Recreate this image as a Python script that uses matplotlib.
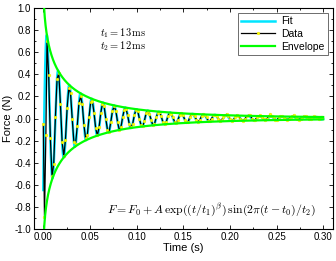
import numpy as np
import matplotlib
matplotlib.use("Agg")
import matplotlib.pyplot as plt

plt.rcParams["font.family"] = ["Liberation Sans", "DejaVu Sans"]
plt.rcParams["mathtext.fontset"] = "cm"

# fit parameters (model drawn as Fit / Envelope)
F0 = 0.003
A = 1.3
T1 = 0.013
BETA = 0.5
T0 = 0.001
T2 = 0.012

# measured samples: a few irregular first points, then every 1.8 ms from 4 ms
data_t_head = [0.0, 0.0013, 0.0028]
data_f_head = [-0.05, -0.89, -0.15]
data_t_start = 0.004
data_dt = 0.0018
data_f = [
    0.70, 0.39, -0.18, -0.52, -0.41, 0.01, 0.36, 0.41, 0.13, -0.21,
    -0.34, -0.19, 0.10, 0.28, 0.23, 0.00, -0.21, -0.23, -0.07, 0.14,
    0.20, 0.13, -0.06, -0.18, -0.15, 0.01, 0.15, 0.16, 0.05, -0.09,
    -0.15, -0.08, 0.05, 0.13, 0.11, 0.00, -0.10, -0.12, -0.03, 0.07,
    0.11, 0.07, -0.03, -0.10, -0.08, 0.01, 0.08, 0.09, 0.03, -0.05,
    -0.08, -0.05, 0.03, 0.08, 0.07, 0.00, -0.06, -0.07, -0.02, 0.05,
    0.07, 0.04, -0.01, -0.06, -0.05, 0.01, 0.05, 0.06, 0.02, -0.03,
    -0.05, -0.03, 0.02, 0.05, 0.04, 0.01, -0.03, -0.04, -0.01, 0.03,
    0.05, 0.03, -0.01, -0.03, -0.03, 0.01, 0.04, 0.04, 0.02, -0.01,
    -0.03, -0.01, 0.02, 0.04, 0.03, 0.01, -0.02, -0.02, 0.00, 0.03,
    0.03, 0.02, 0.00, -0.02, -0.01, 0.01, 0.03, 0.04, 0.02, 0.00,
    -0.02, -0.01, 0.01, 0.03, 0.02, 0.00, -0.01, -0.02, 0.00, 0.02,
    0.03, 0.03, 0.00, -0.01, -0.01, 0.01, 0.02, 0.03, 0.01, 0.00,
    -0.01, 0.00, 0.02, 0.04, 0.02, 0.01, -0.01, -0.01, 0.01, 0.02,
    0.02, 0.01, 0.00, -0.01, 0.00, 0.01, 0.02, 0.03, 0.01, 0.00,
    -0.01, 0.00, 0.01, 0.02, 0.02, 0.01, 0.00, 0.00, 0.01, 0.02,
    0.01, 0.01, 0.00, 0.01, 0.01,
]

data_t = np.concatenate([data_t_head,
                         data_t_start + data_dt * np.arange(len(data_f))])
data_y = np.concatenate([data_f_head, data_f])

t = np.linspace(0.0, 0.3, 3000)
env = A * np.exp(-(t / T1) ** BETA)
fit = F0 + env * np.sin(2 * np.pi * (t - T0) / T2)

fig = plt.figure(figsize=(3.36, 2.61), dpi=100)
ax = fig.add_axes([0.101, 0.1226, 0.8886, 0.8464])

ax.plot(t, fit, color="#00e5ff", lw=1.8, label="Fit", zorder=2)
ax.plot(data_t, data_y, color="black", lw=0.9, marker="o", ms=2.0,
        mfc="#ffff00", mec="#e8e800", mew=0.3, label="Data", zorder=3)
ax.plot(t, F0 + env, color="#00ff00", lw=1.6, label="Envelope", zorder=4)
ax.plot(t, F0 - env, color="#00ff00", lw=1.6, zorder=4)

xmaj = np.arange(0, 0.31, 0.05)
ymaj = np.arange(-1.0, 1.01, 0.2)
ax.set_xlim(-0.01, 0.31)
ax.set_ylim(-1.0, 1.0)
ax.set_xticks(xmaj)
ax.set_xticks(np.arange(0.0, 0.31, 0.025), minor=True)
ax.set_yticks(ymaj)
ax.set_yticks(np.arange(-1.0, 1.01, 0.1), minor=True)
ax.set_xticklabels([f"{v:.2f}" for v in xmaj])
ax.set_yticklabels([f"{v:.1f}" for v in ymaj])
ax.tick_params(which="both", direction="in", top=True, right=True,
               labelsize=7, pad=2, width=0.6)
ax.tick_params(which="major", length=3)
ax.tick_params(which="minor", length=1.5)
for s in ax.spines.values():
    s.set_linewidth(0.8)

ax.set_xlabel("Time (s)", fontsize=8, labelpad=1)
ax.set_ylabel("Force (N)", fontsize=8, labelpad=1)

ax.text(0.061, 0.775, r"$t_1 = 13\,\mathrm{ms}$", fontsize=7.5, va="center")
ax.text(0.061, 0.655, r"$t_2 = 12\,\mathrm{ms}$", fontsize=7.5, va="center")
ax.text(0.292, -0.855,
        r"$F = F_0 + A\,\exp((t/t_1)^\beta)\,\sin(2\pi(t-t_0)/t_2)$",
        fontsize=8.5, ha="right")

leg = ax.legend(loc="upper right", fontsize=7.5, frameon=True, fancybox=False,
                edgecolor="#555555", framealpha=1, borderpad=0.35,
                handlelength=3.2, labelspacing=0.25, borderaxespad=0.45,
                handletextpad=0.6)
leg.get_frame().set_linewidth(0.6)

fig.savefig("out.png", dpi=100)
